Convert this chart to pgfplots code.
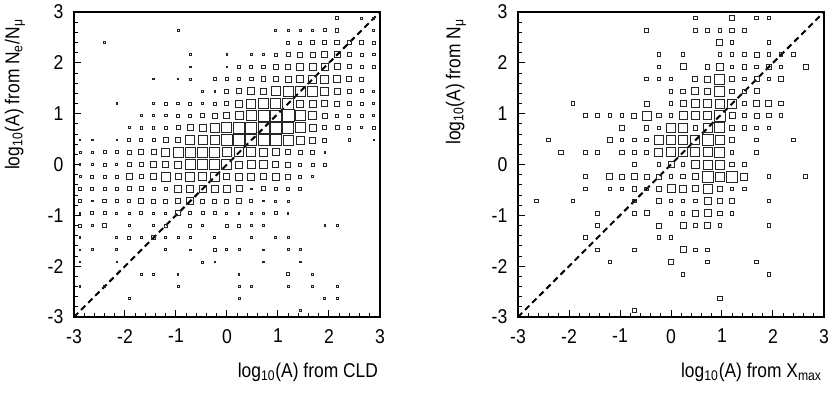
\documentclass[border=0pt]{standalone}
\usepackage{fontspec}
\setmainfont{Liberation Sans}
\usepackage{pgfplots}
\usepackage{pgfplotstable}
\pgfplotsset{compat=1.18}

% x y s  (s = box side in pixels of the reference)
\pgfplotstableread{
x y s
2.16 2.88 3.5
2.64 2.88 2
2.88 2.88 2
-0.96 2.64 2
0.96 2.64 2
1.20 2.64 2
1.44 2.64 2
1.68 2.64 2
1.92 2.64 3
2.16 2.64 3.5
2.88 2.64 2
-2.40 2.40 2
1.20 2.40 3
1.44 2.40 3
1.68 2.40 3.5
1.92 2.40 4
2.16 2.40 4.5
2.40 2.40 4.5
2.64 2.40 3.5
2.88 2.40 3
-0.72 2.16 1.5
0 2.16 1.5
0.48 2.16 1.5
0.72 2.16 2.5
0.96 2.16 3
1.20 2.16 4
1.44 2.16 5
1.68 2.16 5
1.92 2.16 6
2.16 2.16 6
2.40 2.16 3.5
2.64 2.16 3
2.88 2.16 2.5
-0.72 1.92 1.5
0 1.92 1.5
0.24 1.92 3
0.48 1.92 3
0.72 1.92 3.5
0.96 1.92 4.5
1.20 1.92 5
1.44 1.92 7
1.68 1.92 7
1.92 1.92 7
2.16 1.92 6
2.40 1.92 4
2.64 1.92 3
2.88 1.92 3
-1.44 1.68 1.5
-0.96 1.68 1.5
-0.72 1.68 2
-0.24 1.68 3
0 1.68 3
0.24 1.68 3
0.48 1.68 3.5
0.72 1.68 4.5
0.96 1.68 5
1.20 1.68 6
1.44 1.68 7
1.68 1.68 8
1.92 1.68 8
2.16 1.68 7
2.40 1.68 5
2.64 1.68 4
-0.48 1.44 1.5
-0.24 1.44 1.5
0 1.44 4
0.24 1.44 5
0.48 1.44 7
0.72 1.44 6
0.96 1.44 9
1.20 1.44 10
1.44 1.44 10
1.68 1.44 10
1.92 1.44 8
2.16 1.44 6
2.40 1.44 3.5
2.64 1.44 3
2.88 1.44 2
-2.16 1.20 1.5
-1.44 1.20 1.5
-1.20 1.20 3
-0.96 1.20 2.5
-0.72 1.20 3
-0.48 1.20 2.5
-0.24 1.20 3
0 1.20 4
0.24 1.20 7
0.48 1.20 9
0.72 1.20 10
0.96 1.20 10
1.20 1.20 11
1.44 1.20 7
1.68 1.20 7
1.92 1.20 6
2.16 1.20 5
2.40 1.20 4
2.64 1.20 3
2.88 1.20 2
-1.68 0.96 1.5
-1.44 0.96 1.5
-1.20 0.96 2.5
-0.96 0.96 3
-0.72 0.96 3
-0.48 0.96 4
-0.24 0.96 5
0 0.96 6
0.24 0.96 8
0.48 0.96 10
0.72 0.96 11
0.96 0.96 11
1.20 0.96 12
1.44 0.96 10
1.68 0.96 8
1.92 0.96 5
2.16 0.96 3
2.40 0.96 3
2.64 0.96 3
2.88 0.96 2
-1.92 0.72 2
-1.68 0.72 2.5
-1.44 0.72 2.5
-1.20 0.72 3
-0.96 0.72 4
-0.72 0.72 6
-0.48 0.72 7
-0.24 0.72 9
0 0.72 10
0.24 0.72 11
0.48 0.72 11
0.72 0.72 11
0.96 0.72 11
1.20 0.72 11
1.44 0.72 10
1.68 0.72 7
1.92 0.72 4
2.16 0.72 4
2.40 0.72 3
2.64 0.72 2
2.88 0.72 2.5
-2.88 0.48 1.5
-2.64 0.48 1.5
-2.16 0.48 1.5
-1.92 0.48 3
-1.68 0.48 3
-1.44 0.48 3
-1.20 0.48 5
-0.96 0.48 5
-0.72 0.48 9
-0.48 0.48 9
-0.24 0.48 9
0 0.48 11
0.24 0.48 11
0.48 0.48 11
0.72 0.48 11
0.96 0.48 11
1.20 0.48 10
1.44 0.48 8
1.68 0.48 6
1.92 0.48 4
2.40 0.48 2.5
2.88 0.48 1.5
-2.88 0.24 2
-2.64 0.24 1.5
-2.40 0.24 3
-2.16 0.24 3
-1.92 0.24 4
-1.68 0.24 5
-1.44 0.24 5
-1.20 0.24 8
-0.96 0.24 10
-0.72 0.24 10
-0.48 0.24 10
-0.24 0.24 10
0 0.24 9
0.24 0.24 9
0.48 0.24 9
0.72 0.24 8
0.96 0.24 7
1.20 0.24 5
1.44 0.24 4
1.68 0.24 4
1.92 0.24 1.5
-2.88 0 1.5
-2.64 0 1.5
-2.40 0 3
-2.16 0 2
-1.92 0 4
-1.68 0 4
-1.44 0 6
-1.20 0 6
-0.96 0 7
-0.72 0 10
-0.48 0 10
-0.24 0 10
0 0 10
0.24 0 7
0.48 0 8
0.72 0 8
0.96 0 6
1.20 0 5
1.44 0 3
1.68 0 3
1.92 0 3
-2.88 -0.24 2
-2.64 -0.24 3
-2.40 -0.24 3
-2.16 -0.24 3
-1.92 -0.24 6
-1.68 -0.24 3.5
-1.44 -0.24 6
-1.20 -0.24 9
-0.96 -0.24 6
-0.72 -0.24 9
-0.48 -0.24 8
-0.24 -0.24 9
0 -0.24 6
0.24 -0.24 7
0.48 -0.24 7
0.72 -0.24 6
0.96 -0.24 7
1.20 -0.24 5
1.44 -0.24 3
1.68 -0.24 2.5
-2.88 -0.48 3
-2.64 -0.48 3
-2.40 -0.48 3
-2.16 -0.48 3
-1.92 -0.48 4
-1.68 -0.48 4
-1.44 -0.48 3
-1.20 -0.48 3
-0.96 -0.48 7
-0.72 -0.48 7
-0.48 -0.48 7
-0.24 -0.48 7
0 -0.48 7
0.24 -0.48 6
0.48 -0.48 1.5
0.72 -0.48 4
0.96 -0.48 3
1.20 -0.48 3
1.44 -0.48 3
-2.88 -0.72 3.5
-2.64 -0.72 1.5
-2.40 -0.72 3.5
-2.16 -0.72 3.5
-1.92 -0.72 3.5
-1.68 -0.72 5
-1.44 -0.72 4
-1.20 -0.72 4
-0.96 -0.72 5
-0.72 -0.72 7
-0.48 -0.72 4
-0.24 -0.72 4
0 -0.72 4
0.24 -0.72 5
0.48 -0.72 3
0.72 -0.72 1.5
0.96 -0.72 2
1.20 -0.72 2
-2.88 -0.96 1.5
-2.64 -0.96 3
-2.40 -0.96 3
-2.16 -0.96 2
-1.92 -0.96 2
-1.68 -0.96 3
-1.44 -0.96 1.5
-1.20 -0.96 2
-0.96 -0.96 5
-0.72 -0.96 3
-0.48 -0.96 3
-0.24 -0.96 3
0 -0.96 2
0.24 -0.96 1.5
0.48 -0.96 2
0.72 -0.96 1.5
0.96 -0.96 3
1.20 -0.96 1.5
-2.88 -1.20 3
-2.64 -1.20 1.5
-2.40 -1.20 4
-1.92 -1.20 2
-1.44 -1.20 2
-1.20 -1.20 3
-0.72 -1.20 3
-0.48 -1.20 2
0 -1.20 3
0.24 -1.20 3
0.48 -1.20 2
0.72 -1.20 2
1.92 -1.20 1.5
2.16 -1.20 2
-2.88 -1.44 1.5
-2.16 -1.44 2
-1.92 -1.44 3
-1.68 -1.44 2
-1.44 -1.44 4
-1.20 -1.44 2
-0.96 -1.44 2
-0.72 -1.44 2
-0.24 -1.44 2
0.48 -1.44 2
0.96 -1.44 2
1.20 -1.44 2
-2.88 -1.68 1.5
-2.64 -1.68 2
-2.16 -1.68 2
-1.20 -1.68 2
-0.72 -1.68 1.5
-0.24 -1.68 3
0 -1.68 2
0.24 -1.68 2
0.72 -1.68 1.5
1.20 -1.68 2
1.44 -1.68 2
-2.88 -1.92 1.5
-2.16 -1.92 1.5
-0.48 -1.92 2
-0.24 -1.92 1.5
0.72 -1.92 1.5
1.44 -1.92 1.5
-1.68 -2.16 1.5
-1.44 -2.16 1.5
-0.96 -2.16 1.5
0.24 -2.16 1.5
1.20 -2.16 3
1.68 -2.16 1.5
-2.88 -2.40 1.5
-2.40 -2.40 1.5
-0.96 -2.40 2
0.24 -2.40 2
0.48 -2.40 2
1.20 -2.40 2
1.68 -2.40 2
2.16 -2.40 2
-1.92 -2.64 2
0.24 -2.64 2
1.92 -2.64 2
2.16 -2.64 2
1.44 -2.88 2
}\leftdata

\pgfplotstableread{
x y s
0.48 2.88 3.5
1.20 2.88 5
1.68 2.88 3.5
1.92 2.88 3.5
-0.48 2.64 3.5
0.48 2.64 3.5
0.72 2.64 3.5
0.96 2.64 3.5
1.20 2.64 4.5
1.44 2.64 3.5
0.96 2.40 6
1.20 2.40 3.5
1.92 2.40 3.5
-0.24 2.16 3.5
0.24 2.16 3.5
0.96 2.16 3.5
1.20 2.16 3.5
1.44 2.16 4.5
1.68 2.16 5
1.92 2.16 3.5
2.16 2.16 3.5
2.40 2.16 3.5
-0.24 1.92 3.5
0.24 1.92 6
0.72 1.92 4.5
0.96 1.92 7
1.20 1.92 3.5
1.44 1.92 4.5
1.68 1.92 3.5
1.92 1.92 5
2.16 1.92 3.5
2.64 1.92 5
-0.48 1.68 3.5
-0.24 1.68 3.5
0 1.68 3.5
0.48 1.68 5
0.72 1.68 6
0.96 1.68 10
1.20 1.68 4.5
1.44 1.68 3.5
1.68 1.68 5
1.92 1.68 3.5
2.16 1.68 5
0 1.44 3.5
0.24 1.44 4.5
0.48 1.44 7
0.72 1.44 6
0.96 1.44 10
1.20 1.44 4.5
1.44 1.44 4.5
1.68 1.44 5
-1.92 1.20 3.5
-0.48 1.20 5
0 1.20 3.5
0.24 1.20 6
0.48 1.20 8
0.72 1.20 8
0.96 1.20 9
1.20 1.20 9
1.44 1.20 4.5
1.68 1.20 6
1.92 1.20 6
2.16 1.20 4.5
-1.68 0.96 3.5
-1.44 0.96 3.5
-1.20 0.96 3.5
-0.96 0.96 3.5
-0.72 0.96 5
-0.48 0.96 9
-0.24 0.96 4.5
0 0.96 3.5
0.24 0.96 8
0.48 0.96 8
0.72 0.96 8
0.96 0.96 11
1.20 0.96 6
1.44 0.96 4.5
1.68 0.96 5
1.92 0.96 4.5
2.16 0.96 3.5
-0.96 0.72 5
-0.48 0.72 4.5
-0.24 0.72 3.5
0 0.72 9
0.24 0.72 9
0.48 0.72 4.5
0.72 0.72 9
0.96 0.72 10
1.20 0.72 5
1.44 0.72 4.5
1.68 0.72 3.5
1.92 0.72 3.5
-2.40 0.48 3.5
-1.20 0.48 5
-0.96 0.48 3.5
-0.72 0.48 3.5
-0.48 0.48 3.5
-0.24 0.48 9
0 0.48 9
0.24 0.48 9
0.48 0.48 9
0.72 0.48 11
0.96 0.48 9
1.20 0.48 5
1.68 0.48 3.5
2.40 0.48 3.5
-2.16 0.24 4.5
-1.68 0.24 3.5
-1.44 0.24 3.5
-0.96 0.24 4.5
-0.72 0.24 4.5
-0.48 0.24 3.5
-0.24 0.24 8
0 0.24 9
0.24 0.24 9
0.48 0.24 9
0.72 0.24 9
0.96 0.24 10
1.20 0.24 3.5
1.68 0.24 4.5
-0.72 0 3.5
-0.24 0 3.5
0 0 6
0.24 0 3.5
0.48 0 8
0.72 0 9
0.96 0 9
1.20 0 4.5
1.44 0 3.5
-1.68 -0.24 3.5
-1.20 -0.24 6
-0.96 -0.24 5
-0.72 -0.24 6
-0.48 -0.24 5
-0.24 -0.24 5
0 -0.24 3.5
0.24 -0.24 4.5
0.48 -0.24 6
0.72 -0.24 11
0.96 -0.24 9
1.20 -0.24 11
1.44 -0.24 7
1.92 -0.24 3.5
2.64 -0.24 3.5
-1.68 -0.48 3.5
-1.20 -0.48 3.5
-0.96 -0.48 3.5
-0.72 -0.48 4.5
-0.48 -0.48 3.5
-0.24 -0.48 4.5
0 -0.48 8
0.24 -0.48 7
0.48 -0.48 6
0.72 -0.48 9
0.96 -0.48 4.5
1.20 -0.48 3.5
1.44 -0.48 3.5
-2.64 -0.72 3.5
-1.92 -0.72 3.5
-0.72 -0.72 3.5
-0.24 -0.72 5
0 -0.72 3.5
0.24 -0.72 3.5
0.48 -0.72 3.5
0.72 -0.72 7
0.96 -0.72 5
1.20 -0.72 5
1.92 -0.72 3.5
-1.44 -0.96 3.5
-0.72 -0.96 3.5
-0.48 -0.96 5
0 -0.96 3.5
0.24 -0.96 3.5
0.48 -0.96 6
0.72 -0.96 7
0.96 -0.96 4.5
1.20 -0.96 3.5
-1.44 -1.20 3.5
-0.24 -1.20 5
0.24 -1.20 6
0.48 -1.20 3.5
0.72 -1.20 6
0.96 -1.20 3.5
1.92 -1.20 3.5
-1.68 -1.44 3.5
-0.24 -1.44 3.5
0 -1.44 3.5
-1.44 -1.68 3.5
-0.72 -1.68 3.5
0.24 -1.68 6
0.48 -1.68 3.5
0.72 -1.68 3.5
-1.20 -1.92 3.5
0 -1.92 5
0.72 -1.92 3.5
1.68 -1.92 3.5
0.24 -2.16 3.5
1.92 -2.16 3.5
0.96 -2.64 4.5
-0.72 -2.88 4
}\rightdata

\pgfplotsset{
  boxpanel/.style={
    scale only axis, width=153pt, height=152.5pt,
    xmin=-3, xmax=3, ymin=-3, ymax=3,
    xtick={-3,...,3}, ytick={-3,...,3},
    minor tick num=4,
    tick align=inside, tick pos=left,
    major tick length=3.5pt, minor tick length=2pt,
    axis line style={line width=1pt},
    every tick/.style={black, line width=0.5pt},
    tick label style={font=\fontsize{10}{12}\selectfont, xscale=0.88},
    /pgf/number format/assume math mode=true,
    xticklabel style={yshift=-2.5pt},
    yticklabel style={xshift=-2.5pt},
  },
  boxes/.style={
    scatter, only marks, mark=square,
    mark options={line width=0.5pt},
    scatter/use mapped color={draw=black!85, fill=none},
    visualization depends on={\thisrow{s}/4 \as \msz},
    scatter/@pre marker code/.append style={/tikz/mark size=\msz},
  },
  diag/.style={black, line width=1pt, dash pattern=on 3pt off 2pt},
}
\tikzset{axtitle/.style={font=\fontsize{10}{12}\selectfont, inner sep=1pt}}

\begin{document}
\begin{tikzpicture}
\useasboundingbox (-37pt,-38pt) rectangle (378pt,158.5pt);

\begin{axis}[boxpanel, name=L, at={(0pt,0pt)}, anchor=south west]
\addplot[boxes] table[x=x, y=y] {\leftdata};
\addplot[diag] coordinates {(-3,-3) (3,3)};
\end{axis}
\node[axtitle, rotate=90, xscale=0.87, anchor=east]
  at ([xshift=-29.5pt, yshift=-2.5pt]L.north west)
  {log\textsubscript{10}(A) from N\textsubscript{e}/N\textsubscript{μ}};
\node[axtitle, xscale=0.87, anchor=east]
  at ([yshift=-27.5pt]L.south east)
  {log\textsubscript{10}(A) from CLD};

\begin{axis}[boxpanel, name=R, at={(222pt,0pt)}, anchor=south west]
\addplot[boxes] table[x=x, y=y] {\rightdata};
\addplot[diag] coordinates {(-3,-3) (3,3)};
\end{axis}
\node[axtitle, rotate=90, xscale=0.87, anchor=east]
  at ([xshift=-31pt, yshift=-2.5pt]R.north west)
  {log\textsubscript{10}(A) from N\textsubscript{μ}};
\node[axtitle, xscale=0.87, anchor=east]
  at ([yshift=-27.5pt]R.south east)
  {log\textsubscript{10}(A) from X\textsubscript{max}};
\end{tikzpicture}
\end{document}
